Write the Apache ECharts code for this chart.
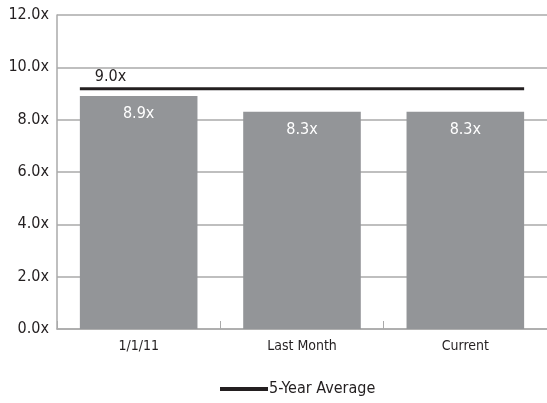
<!DOCTYPE html>
<html>
<head>
<meta charset="utf-8">
<script src="https://cdn.jsdelivr.net/npm/echarts@6/dist/echarts.min.js"></script>
<style>html,body{margin:0;padding:0;background:#fff}#c{width:547px;height:403px}</style>
</head>
<body>
<div id="c"></div>
<script>
const categories = ['1/1/11', 'Last Month', 'Current'];
const barValues = [8.9, 8.3, 8.3];
const avgName = '5-Year Average';
const avgValue = 9.18;
const avgLabel = '9.0x';
const yTicks = [0, 2, 4, 6, 8, 10, 12];

const FONT = "'DejaVu Sans Condensed', 'Liberation Sans Narrow', sans-serif";
const chart = echarts.init(document.getElementById('c'), null, {renderer: 'canvas'});
const barFrac = 0.72;
const half = barFrac / 2;
chart.setOption({
  animation: false,
  textStyle: {fontFamily: FONT},
  grid: {left: 57, right: 0, top: 15, bottom: 74, containLabel: false},
  legend: {
    data: [avgName], bottom: 1, left: 215,
    itemWidth: 48, itemHeight: 4, itemGap: 2,
    icon: 'rect',
    textStyle: {fontFamily: FONT, fontSize: 16, color: '#231f20', padding: [0,0,0,-4]}
  },
  xAxis: [{
    type: 'category', data: categories,
    axisLine: {lineStyle: {color: '#aaaaaa', width: 1.5}},
    axisTick: {show: true, inside: true, length: 8, lineStyle: {color: '#aaaaaa'}},
    axisLabel: {color: '#231f20', fontSize: 14, fontFamily: FONT, margin: 10}
  }, {
    type: 'value', min: -0.5, max: categories.length - 0.5, show: false,
    axisLine: {show: false}, axisTick: {show: false}, splitLine: {show: false}, axisLabel: {show: false}
  }],
  yAxis: {
    type: 'value', min: yTicks[0], max: yTicks[yTicks.length - 1], interval: yTicks[1] - yTicks[0],
    axisLine: {show: true, onZero: false, lineStyle: {color: '#aaaaaa', width: 1.5}},
    axisTick: {show: false, length: 0},
    splitLine: {lineStyle: {color: '#aaaaaa', width: 1.5}},
    axisLabel: {color: '#231f20', fontSize: 16, fontFamily: FONT, margin: 8,
      formatter: v => v.toFixed(1) + 'x'}
  },
  series: [{
    type: 'bar', data: barValues, barCategoryGap: '28%',
    itemStyle: {color: '#939598'},
    label: {show: true, position: 'insideTop', distance: 10, color: '#ffffff', fontSize: 16,
      fontFamily: FONT, formatter: p => p.value.toFixed(1) + 'x'}
  }, {
    name: avgName, type: 'line', xAxisIndex: 1, symbol: 'none',
    data: [[-half, avgValue], [categories.length - 1 + half, avgValue]],
    lineStyle: {color: '#231f20', width: 3},
    itemStyle: {color: '#231f20'},
    markPoint: {
      symbol: 'rect', symbolSize: 0,
      data: [{coord: [-half, avgValue], value: avgLabel}],
      label: {show: true, position: 'right', offset: [10, -12], color: '#231f20', fontSize: 16,
        fontFamily: FONT, formatter: () => avgLabel}
    }
  }]
});
</script>
</body>
</html>
